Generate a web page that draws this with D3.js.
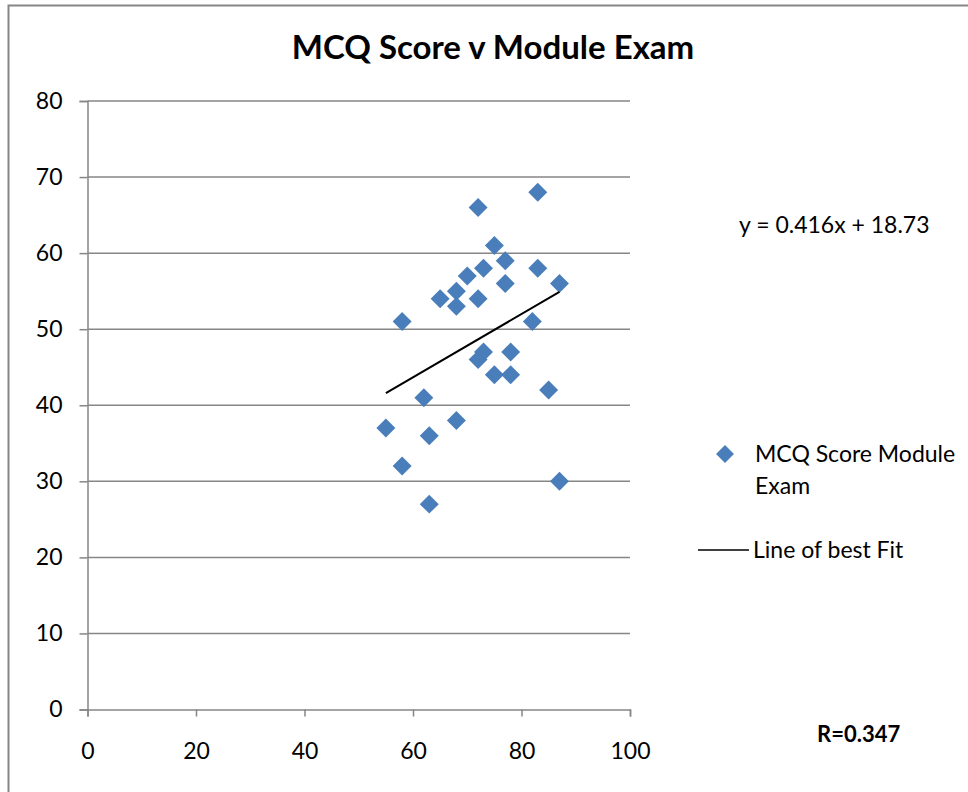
<!DOCTYPE html>
<html>
<head>
<meta charset="utf-8">
<script src="https://cdn.jsdelivr.net/npm/d3@7"></script>
<style>
  body { margin: 0; background: #fff; }
  text { font-family: Lato, "Open Sans", sans-serif; fill: #000; }
</style>
</head>
<body>
<svg width="968" height="792"></svg>
<script>
'use strict'

// MCQ score (x) against module exam score (y)
var mcqScore = [55, 58, 58, 62, 63, 63, 65, 68, 68, 68, 70, 72, 72, 72, 73, 73, 75, 75, 77, 77, 78, 78, 82, 83, 83, 85, 87, 87];
var examScore = [37, 51, 32, 41, 36, 27, 54, 55, 53, 38, 57, 66, 54, 46, 58, 47, 61, 44, 59, 56, 47, 44, 51, 68, 58, 42, 56, 30];

// line of best fit end points
var fitX = [55, 87];
var fitY = [41.6, 54.9];

var xTicks = [0, 20, 40, 60, 80, 100];
var yTicks = [0, 10, 20, 30, 40, 50, 60, 70, 80];

var title = "MCQ Score v Module Exam";
var equation = "y = 0.416x + 18.73";
var rLabel = "R=0.347";
var seriesName = ["MCQ Score Module", "Exam"];
var fitName = "Line of best Fit";

var blue = "#4a7ebb",
  grey = "#868686";

var svg = d3.select("svg");

var x = d3.scaleLinear().domain([0, 100]).range([87.5, 630]),
  y = d3.scaleLinear().domain([0, 80]).range([709.5, 101]);

// chart border (only left and top show in the window)
svg.append("path")
  .attr("d", "M8.5,800V5.5H980")
  .attr("fill", "none")
  .attr("stroke", grey)
  .attr("stroke-width", 2);

svg.append("text")
  .attr("x", 493)
  .attr("y", 59)
  .attr("text-anchor", "middle")
  .style("font-size", "33px")
  .style("font-weight", "bold")
  .text(title);

// gridlines
svg.append("g")
  .selectAll("line")
  .data(yTicks.slice(1))
  .enter()
  .append("line")
  .attr("x1", x(0))
  .attr("x2", x(100))
  .attr("y1", function(d) { return y(d); })
  .attr("y2", function(d) { return y(d); })
  .attr("stroke", grey)
  .attr("stroke-width", 1.5);

var yAxis = d3.axisLeft(y).tickValues(yTicks).tickSize(8).tickPadding(17);
var xAxis = d3.axisBottom(x).tickValues(xTicks).tickSize(7).tickPadding(26);

var gy = svg.append("g")
  .attr("transform", "translate(" + x(0) + ",0)")
  .call(yAxis);

var gx = svg.append("g")
  .attr("transform", "translate(0," + y(0) + ")")
  .call(xAxis);

[gx, gy].forEach(function(g) {
  g.select(".domain").attr("stroke", grey).attr("stroke-width", 1.5);
  g.selectAll(".tick line").attr("stroke", grey).attr("stroke-width", 1.5);
  g.selectAll(".tick text")
    .style("font-size", "23px")
    .style("font-family", "Lato, sans-serif")
    .attr("fill", "#000");
});

var diamond = d3.symbol().type(d3.symbolSquare).size(180);

svg.append("g")
  .selectAll("path")
  .data(mcqScore)
  .enter()
  .append("path")
  .attr("d", diamond)
  .attr("transform", function(d, i) {
    return "translate(" + x(d) + "," + y(examScore[i]) + ") rotate(45)";
  })
  .attr("fill", blue);

var line = d3.line()
  .x(function(d) { return x(d); })
  .y(function(d, i) { return y(fitY[i]); });

svg.append("path")
  .attr("d", line(fitX))
  .attr("fill", "none")
  .attr("stroke", "#000")
  .attr("stroke-width", 2);

svg.append("text")
  .attr("x", 739)
  .attr("y", 233)
  .style("font-size", "23px")
  .text(equation);

// legend
svg.append("path")
  .attr("d", d3.symbol().type(d3.symbolSquare).size(160))
  .attr("transform", "translate(725,454) rotate(45)")
  .attr("fill", blue);

svg.append("g")
  .selectAll("text")
  .data(seriesName)
  .enter()
  .append("text")
  .attr("x", 755)
  .attr("y", function(d, i) { return 462 + i * 32; })
  .style("font-size", "23px")
  .text(function(d) { return d; });

svg.append("line")
  .attr("x1", 698)
  .attr("x2", 749)
  .attr("y1", 550)
  .attr("y2", 550)
  .attr("stroke", "#000")
  .attr("stroke-width", 1.5);

svg.append("text")
  .attr("x", 753)
  .attr("y", 558)
  .style("font-size", "23px")
  .text(fitName);

svg.append("text")
  .attr("x", 817)
  .attr("y", 742)
  .style("font-size", "22px")
  .style("font-weight", "bold")
  .text(rLabel);
</script>
</body>
</html>
